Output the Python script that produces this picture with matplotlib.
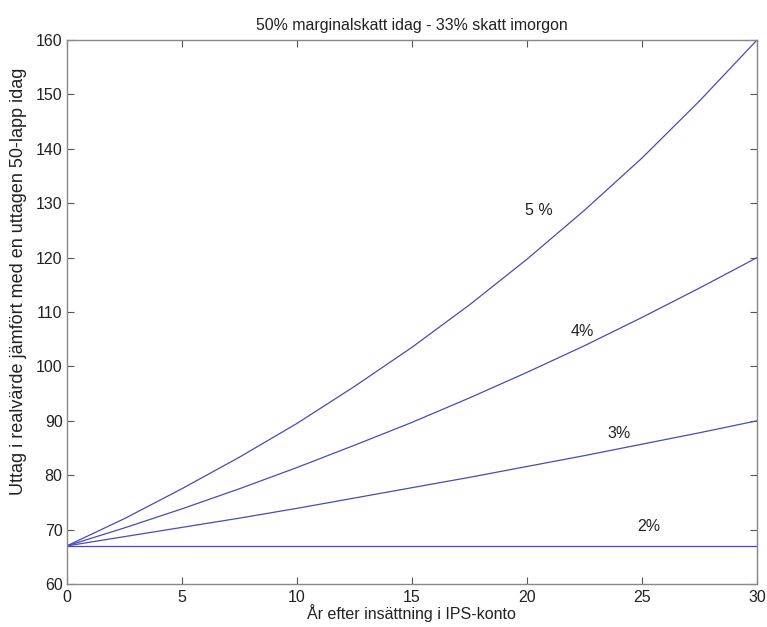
import matplotlib
matplotlib.use("Agg")
import matplotlib.pyplot as plt

# years after deposit, read every 2.5 years
years = [0, 2.5, 5, 7.5, 10, 12.5, 15, 17.5, 20, 22.5, 25, 27.5, 30]

# real value of a withdrawal compared with 50-lapp today
r5 = [67, 72.0, 77.5, 83.3, 89.5, 96.3, 103.5, 111.3, 119.7, 128.7, 138.3, 148.8, 160]
r4 = [67, 70.3, 73.8, 77.5, 81.4, 85.5, 89.7, 94.2, 98.9, 103.8, 109.0, 114.4, 120]
r3 = [67, 68.7, 70.4, 72.1, 73.9, 75.8, 77.7, 79.6, 81.6, 83.6, 85.7, 87.8, 90]
r2 = [67, 67, 67, 67, 67, 67, 67, 67, 67, 67, 67, 67, 67]

labels = ["5 %", "4%", "3%", "2%"]
label_pos = [(20.5, 128.7), (22.4, 106.4), (24.0, 87.7), (25.3, 70.5)]

plt.rcParams['font.family'] = ['Liberation Sans', 'DejaVu Sans']

fig = plt.figure(figsize=(7.67, 6.27), dpi=100)
ax = fig.add_axes([0.087, 0.0686, 0.900, 0.8676])

line_color = '#4b4bb0'
for ys in (r5, r4, r3, r2):
    ax.plot(years, ys, color=line_color, lw=0.9)

for txt, (x, y) in zip(labels, label_pos):
    ax.text(x, y, txt, fontsize=11.5, ha='center', va='center', color='#222222')

ax.set_xlim(0, 30)
ax.set_ylim(60, 160)
ax.set_xticks(range(0, 31, 5))
ax.set_yticks(range(60, 161, 10))
ax.tick_params(direction='in', top=True, right=True, labelsize=11.5,
               length=5, width=0.8, color='#555555', labelcolor='#222222')
ax.tick_params(axis='x', pad=4)
ax.tick_params(axis='y', pad=3)
for s in ax.spines.values():
    s.set_color('#888888')
    s.set_linewidth(1.0)

ax.set_title("50% marginalskatt idag - 33% skatt imorgon", fontsize=11.4,
             pad=7, color='#222222')
ax.set_xlabel("År efter insättning i IPS-konto", fontsize=11.5, labelpad=0,
              color='#222222')
ax.set_ylabel("Uttag i realvärde jämfört med en uttagen 50-lapp idag",
              fontsize=13, color='#222222')
ax.yaxis.set_label_coords(-0.058, 0.557)

fig.savefig("out.png", dpi=100)
